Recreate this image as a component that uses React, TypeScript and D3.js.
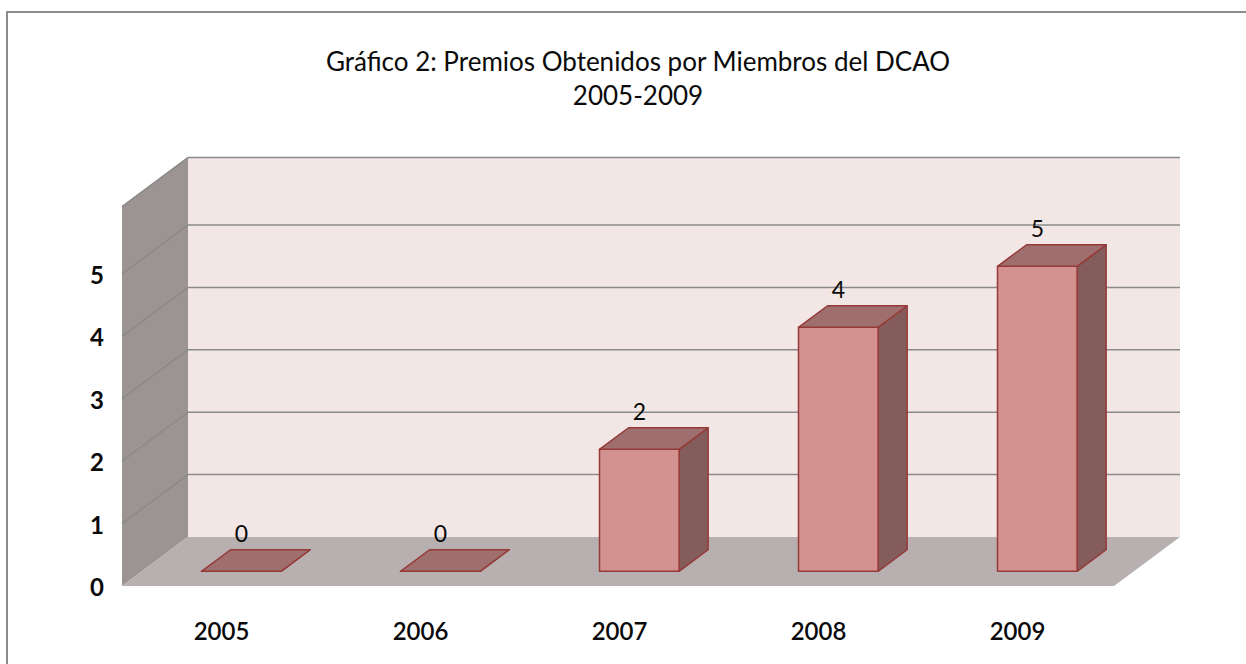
import React from "react";
import * as d3 from "d3";

const years = ["2005", "2006", "2007", "2008", "2009"];
const awards = [0, 0, 2, 4, 5];
const yTicks = [0, 1, 2, 3, 4, 5];
const titleLines = ["Gráfico 2: Premios Obtenidos por Miembros del DCAO", "2005-2009"];

const W = 1246;
const H = 664;
const DX = 66; // oblique offset for full depth
const DY = 49;
const zeroY = 586; // value 0 on the front plane
const wallMax = 6.08;
const font = "Lato, 'Open Sans', sans-serif";

const App = () => {
  const x = d3
    .scaleBand<string>()
    .domain(years)
    .range([122, 1117])
    .paddingInner(0.6)
    .paddingOuter(0.3);

  // wall grid scale and bar scale (bars sit a bit further back)
  const y = d3.scaleLinear().domain([0, 6]).range([0, 374.4]);
  const barH = d3.scaleLinear().domain([0, 5]).range([0, 305]);

  const p = (xf: number, h: number, d: number) => [xf + d * DX, zeroY - h - d * DY];
  const poly = (pts: number[][]) => pts.map((q) => q.join(",")).join(" ");

  const [x0] = x.range();
  const floorRight = 1114;
  const wallTop = y(wallMax);
  const d0 = 0.3;
  const d1 = 0.74;

  return (
    <svg width={W} height={H} style={{ position: "absolute", left: 0, top: 0 }}>
      <rect x={0} y={0} width={W} height={H} fill="#ffffff" />
      <rect x={7} y={12} width={W + 20} height={H + 20} fill="none" stroke="#8c8c8c" strokeWidth={2} />

      {titleLines.map((t, i) => (
        <text key={i} x={638} y={71 + i * 34} textAnchor="middle" fontFamily={font} fontSize={26} fill="#0a0a0a">
          {t}
        </text>
      ))}

      {/* back wall */}
      <polygon
        points={poly([p(x0, 0, 1), p(floorRight, 0, 1), p(floorRight, wallTop, 1), p(x0, wallTop, 1)])}
        fill="#f3e7e6"
      />
      {/* left wall */}
      <polygon
        points={poly([p(x0, 0, 0), p(x0, 0, 1), p(x0, wallTop, 1), p(x0, wallTop, 0)])}
        fill="#9c9492"
      />
      {/* floor */}
      <polygon
        points={poly([p(x0, 0, 0), p(floorRight, 0, 0), p(floorRight, 0, 1), p(x0, 0, 1)])}
        fill="#b8b0b0"
      />

      {/* top edges */}
      <polyline
        points={poly([p(x0, wallTop, 0), p(x0, wallTop, 1), p(floorRight, wallTop, 1)])}
        fill="none"
        stroke="#8a8a8a"
        strokeWidth={1.5}
      />

      {/* gridlines */}
      {yTicks
        .filter((t) => t > 0)
        .map((t) => (
          <polyline
            key={t}
            points={poly([p(x0, y(t), 0), p(x0, y(t), 1), p(floorRight, y(t), 1)])}
            fill="none"
            stroke="#8a8a8a"
            strokeWidth={1.5}
          />
        ))}

      {/* tick labels */}
      {yTicks.map((t) => (
        <text
          key={t}
          x={104}
          y={zeroY - y(t) + 10}
          textAnchor="end"
          fontFamily={font}
          fontWeight="bold"
          fontSize={24}
          fill="#0a0a0a"
        >
          {t}
        </text>
      ))}

      {/* bars */}
      {years.map((yr, i) => {
        const bx = x(yr) as number;
        const bw = x.bandwidth();
        const h = barH(awards[i]);
        const front = [p(bx, 0, d0), p(bx + bw, 0, d0), p(bx + bw, h, d0), p(bx, h, d0)];
        const top = [p(bx, h, d0), p(bx + bw, h, d0), p(bx + bw, h, d1), p(bx, h, d1)];
        const side = [p(bx + bw, 0, d0), p(bx + bw, 0, d1), p(bx + bw, h, d1), p(bx + bw, h, d0)];
        const lbl = p(bx + bw / 2, h, d1);
        return (
          <g key={yr}>
            <polygon points={poly(side)} fill="#845c5b" stroke="#963a38" strokeWidth={1.5} strokeLinejoin="round" />
            <polygon points={poly(front)} fill="#d39190" stroke="#963a38" strokeWidth={1.5} strokeLinejoin="round" />
            <polygon points={poly(top)} fill="#9e6f6e" stroke="#963a38" strokeWidth={1.5} strokeLinejoin="round" />
            <text
              x={bx + bw / 2 + d0 * DX}
              y={lbl[1] - 8}
              textAnchor="middle"
              fontFamily={font}
              fontSize={23}
              fill="#0a0a0a"
            >
              {awards[i]}
            </text>
          </g>
        );
      })}

      {/* category labels */}
      {years.map((yr) => (
        <text
          key={yr}
          x={(x(yr) as number) + x.bandwidth() / 2}
          y={640}
          textAnchor="middle"
          fontFamily={font}
          fontWeight={600}
          fontSize={24}
          fill="#0a0a0a"
        >
          {yr}
        </text>
      ))}
    </svg>
  );
};

export default App;
